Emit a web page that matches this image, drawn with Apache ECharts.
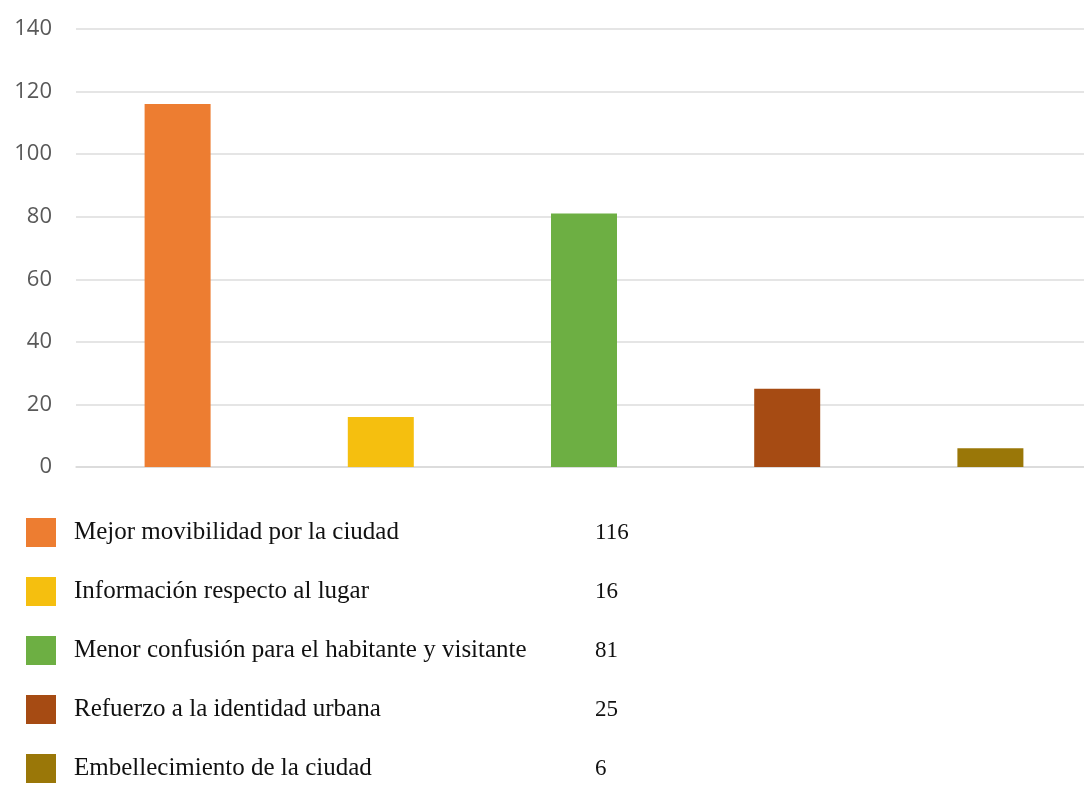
<!DOCTYPE html>
<html>
<head>
<meta charset="utf-8">
<script src="https://cdn.jsdelivr.net/npm/echarts@6/dist/echarts.min.js"></script>
<style>
html,body{margin:0;padding:0;background:#fff;}
#chart{width:1084px;height:787px;}
</style>
</head>
<body>
<div id="chart"></div>
<script>
const categories = [
  "Mejor movibilidad por la ciudad",
  "Información respecto al lugar",
  "Menor confusión para el habitante y visitante",
  "Refuerzo a la identidad urbana",
  "Embellecimiento de la ciudad"
];
const values = [116, 16, 81, 25, 6];
const colors = ["#ED7D31", "#F5BF0F", "#6DAF43", "#A64B13", "#9A7708"];
const yTicks = [0, 20, 40, 60, 80, 100, 120, 140];

const chart = echarts.init(document.getElementById('chart'));

const series = categories.map((name, i) => ({
  name: name,
  type: 'bar',
  stack: 'all',
  barWidth: 66,
  itemStyle: { color: colors[i] },
  data: categories.map((c, j) => (j === i ? values[i] : '-'))
}));

const valueOf = {};
categories.forEach((c, i) => { valueOf[c] = values[i]; });

chart.setOption({
  animation: false,
  backgroundColor: '#ffffff',
  grid: { left: 76, top: 29, width: 1016, bottom: 320, containLabel: false, outerBoundsMode: 'none' },
  xAxis: {
    type: 'category',
    data: categories,
    axisLine: { show: true, lineStyle: { color: '#d9d9d9', width: 1.5 } },
    axisTick: { show: false },
    axisLabel: { show: false }
  },
  yAxis: {
    type: 'value',
    min: yTicks[0],
    max: yTicks[yTicks.length - 1],
    interval: 20,
    axisLine: { show: false },
    axisTick: { show: false },
    splitLine: { lineStyle: { color: '#dcdcdc', width: 1.5 } },
    axisLabel: {
      margin: 24,
      color: '#595959',
      fontFamily: 'Open Sans',
      fontSize: 22
    }
  },
  legend: {
    orient: 'vertical',
    left: 26,
    top: 518,
    height: 280,
    padding: 0,
    itemWidth: 30,
    itemHeight: 29,
    itemGap: 30,
    icon: 'rect',
    data: categories,
    formatter: function (name) {
      return '{n|' + name + '}{v|' + valueOf[name] + '}';
    },
    textStyle: {
      fontFamily: 'Liberation Serif',
      color: '#111111',
      fontSize: 22,
      rich: {
        n: { width: 521, padding: [0, 0, 0, 13], fontFamily: 'Liberation Serif', fontSize: 25, color: '#111111' },
        v: { fontFamily: 'Liberation Serif', fontSize: 23, color: '#111111' }
      }
    }
  },
  series: series
});
</script>
</body>
</html>
